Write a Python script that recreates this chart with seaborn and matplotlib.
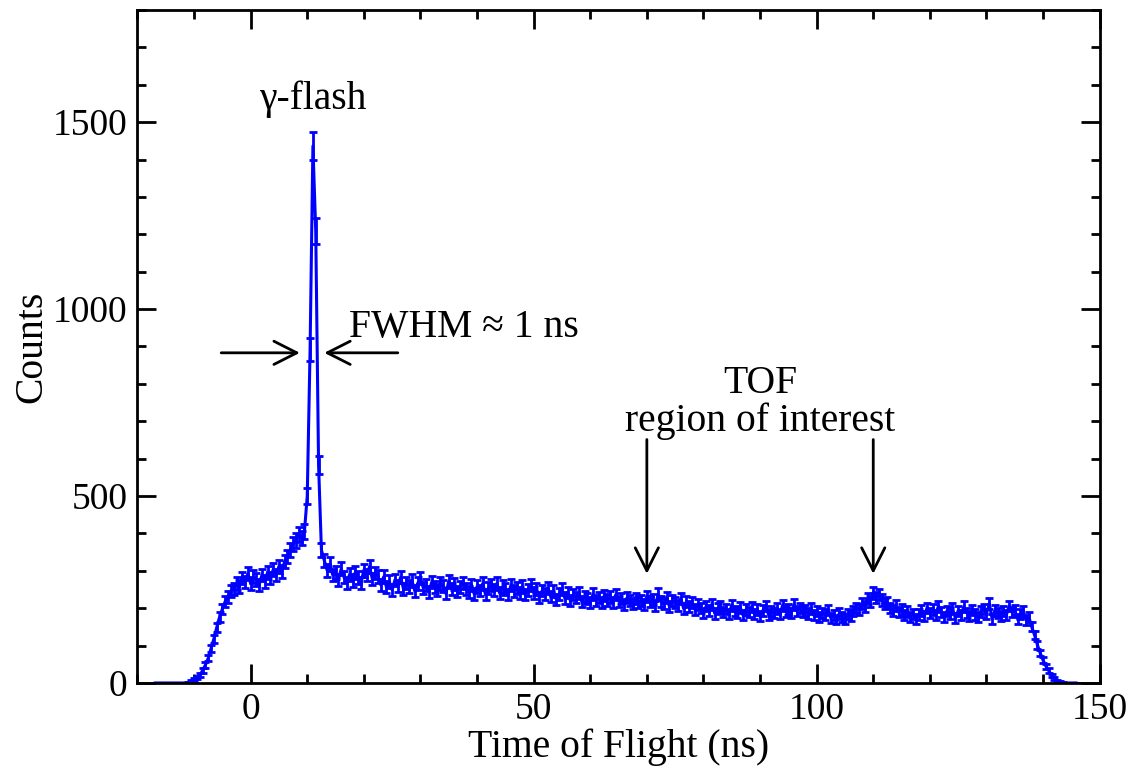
import numpy as np
import pandas as pd
import matplotlib
matplotlib.use("Agg")
import matplotlib.pyplot as plt
import seaborn as sns
from matplotlib.ticker import MultipleLocator

# ---- data (0.5 ns bins starting at -17 ns) ----
x_start = -17.0
bin_width = 0.5
counts = [
    0, 0, 0, 0, 0, 0, 0, 0, 0, 0,
    0, 0, 2, 5, 9, 14, 21, 33, 48, 66,
    92, 118, 148, 176, 198, 218, 230, 246, 252, 266,
    258, 281, 270, 292, 266, 284, 277, 262, 289, 271,
    296, 281, 304, 289, 312, 298, 325, 338, 356, 372,
    381, 398, 388, 405, 500, 892, 1436, 1208, 583, 356,
    328, 302, 318, 289, 296, 276, 305, 283, 268, 291,
    274, 296, 282, 268, 302, 289, 311, 278, 294, 285,
    262, 284, 256, 271, 249, 276, 260, 283, 252, 268,
    258, 274, 246, 266, 281, 254, 262, 244, 270, 257,
    248, 266, 259, 239, 272, 251, 264, 245, 256, 268,
    252, 243, 262, 238, 258, 247, 266, 236, 254, 261,
    249, 266, 240, 258, 252, 237, 262, 246, 255, 241,
    258, 236, 249, 262, 241, 252, 229, 247, 238, 253,
    232, 246, 224, 238, 251, 227, 242, 220, 236, 229,
    241, 218, 232, 226, 214, 238, 221, 229, 216, 234,
    222, 230, 215, 236, 219, 226, 211, 228, 220, 213,
    226, 214, 221, 209, 232, 217, 224, 206, 238, 218,
    212, 229, 204, 220, 215, 208, 226, 199, 218, 205,
    214, 196, 209, 201, 188, 206, 194, 211, 186, 199,
    205, 190, 198, 184, 208, 193, 187, 202, 181, 196,
    189, 203, 185, 197, 178, 194, 206, 183, 192, 187,
    199, 184, 208, 191, 196, 187, 211, 193, 201, 189,
    194, 186, 199, 181, 192, 177, 188, 183, 195, 174,
    181, 170, 186, 176, 172, 184, 179, 192, 201, 196,
    212, 205, 226, 219, 241, 228, 236, 222, 212, 216,
    201, 194, 208, 189, 196, 182, 191, 176, 185, 171,
    183, 194, 178, 201, 187, 196, 182, 205, 190, 177,
    192, 186, 199, 174, 193, 181, 204, 188, 179, 195,
    183, 176, 191, 198, 185, 212, 172, 194, 187, 180,
    193, 181, 206, 189, 195, 172, 184, 191, 168, 176,
    150, 128, 102, 80, 61, 45, 33, 20, 12, 6,
    3, 1, 0, 0, 0, 0, 0,
]
tof = x_start + bin_width * np.arange(len(counts))
counts = np.array(counts, dtype=float)
errors = np.sqrt(counts)

x_ticks = [0, 50, 100, 150]
y_ticks = [0, 500, 1000, 1500]

df = pd.DataFrame({"tof": tof, "counts": counts})

# ---- style ----
sns.set_theme(style="white")
plt.rcParams["font.family"] = ["Liberation Serif", "DejaVu Serif"]
for k in ["text.color", "axes.labelcolor", "xtick.color", "ytick.color",
          "axes.edgecolor"]:
    plt.rcParams[k] = "black"

fig = plt.figure(figsize=(11.36, 7.66), dpi=100)
ax = fig.add_axes([0.121, 0.1084, 0.847, 0.8786])

blue = "#0000FF"
sns.lineplot(data=df, x="tof", y="counts", ax=ax, color=blue, linewidth=2.2,
             estimator=None, sort=False)
ax.errorbar(tof, counts, yerr=errors, fmt="none", ecolor=blue,
            elinewidth=2.0, capsize=2.6, capthick=2.0)

ax.set_xlim(-20, 150)
ax.set_ylim(0, 1800)
ax.set_xticks(x_ticks)
ax.set_yticks(y_ticks)
ax.xaxis.set_minor_locator(MultipleLocator(10))
ax.yaxis.set_minor_locator(MultipleLocator(100))
ax.tick_params(which="both", direction="in", top=True, right=True,
               bottom=True, left=True, width=2.0, color="black")
ax.tick_params(which="major", length=13.5, labelsize=27, pad=7)
ax.tick_params(which="minor", length=6.8)
for s in ax.spines.values():
    s.set_linewidth(2.0)
    s.set_color("black")

ax.set_xlabel("Time of Flight (ns)", fontsize=28.5, labelpad=1)
ax.set_ylabel("Counts", fontsize=28.5, labelpad=2)

# ---- annotations ----
ax.text(11, 1560, "γ-flash", fontsize=28.5, ha="center", va="center")
ax.text(17.4, 950, "FWHM ≈ 1 ns", fontsize=28.5, ha="left", va="center")
ax.text(90, 750, "TOF\nregion of interest", fontsize=28.5, ha="center",
        va="center", linespacing=1.0)

arrow_kw = dict(arrowstyle="->,head_length=0.75,head_width=0.38",
                color="black", lw=2.0, shrinkA=0, shrinkB=0,
                mutation_scale=22)
ax.annotate("", xy=(8.7, 883), xytext=(-5.2, 883), arrowprops=arrow_kw)
ax.annotate("", xy=(13.0, 883), xytext=(26.0, 883), arrowprops=arrow_kw)
ax.annotate("", xy=(70, 292), xytext=(70, 651), arrowprops=arrow_kw)
ax.annotate("", xy=(110, 292), xytext=(110, 651), arrowprops=arrow_kw)

fig.savefig("out.png", dpi=100)
